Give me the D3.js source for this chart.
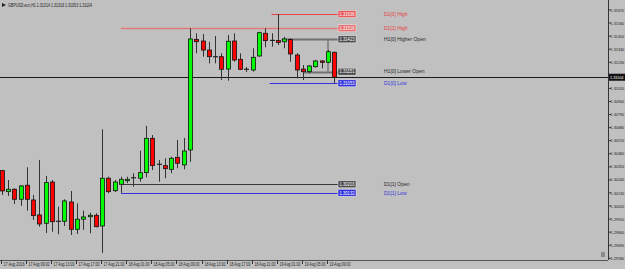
<!DOCTYPE html>
<html>
<head>
<meta charset="utf-8">
<script src="https://cdn.jsdelivr.net/npm/d3@7"></script>
<style>
  html, body { margin: 0; padding: 0; background: #c0c0c0; }
  svg { display: block; font-family: "Liberation Sans", "DejaVu Sans", sans-serif; }
</style>
</head>
<body>
<svg id="chart" width="625" height="269"></svg>
<script>
// GBPUSD H1, bars from 17 Aug 05:00 onward
const opens  = [1.30318,1.30141,1.30161,1.30077,1.30195,1.30071,1.29945,1.29875,1.30222,1.29894,
                1.29892,1.30054,1.29824,1.29909,1.29930,1.29942,1.29852,1.30254,1.30149,1.30203,
                1.30233,1.30260,1.30254,1.30301,1.30590,1.30374,1.30360,1.30329,1.30430,1.30366,
                1.30492,1.31423,1.31409,1.31333,1.31279,1.31277,1.31173,1.31409,1.31255,1.31173,
                1.31165,1.31283,1.31474,1.31416,1.31413,1.31403,1.31423,1.31291,1.31173,1.31151,
                1.31193,1.31241,1.31230,1.31314];
const highs  = [1.30323,1.30239,1.30169,1.30197,1.30346,1.30113,1.30408,1.30273,1.30239,1.30015,
                1.30077,1.30147,1.30043,1.29981,1.29964,1.29959,1.30666,1.30267,1.30239,1.30267,
                1.30267,1.30296,1.30486,1.30694,1.30618,1.30408,1.30422,1.30435,1.30576,1.30593,
                1.31516,1.31474,1.31468,1.31403,1.31451,1.31306,1.31460,1.31474,1.31306,1.31190,
                1.31348,1.31487,1.31516,1.31474,1.31636,1.31445,1.31432,1.31306,1.31207,1.31207,
                1.31249,1.31249,1.31333,1.31319];
const lows   = [1.30113,1.30105,1.30037,1.30021,1.29981,1.29903,1.29846,1.29793,1.29804,1.29782,
                1.29852,1.29776,1.29785,1.29819,1.29791,1.29841,1.29625,1.30127,1.30138,1.30132,
                1.30212,1.30183,1.30225,1.30262,1.30323,1.30225,1.30254,1.30296,1.30338,1.30329,
                1.30393,1.31306,1.31277,1.31221,1.31221,1.31081,1.31075,1.31235,1.31165,1.31148,
                1.31151,1.31277,1.31356,1.31361,1.31375,1.31348,1.31235,1.31095,1.31081,1.31137,
                1.31184,1.31179,1.31221,1.31053];
const closes = [1.30147,1.30161,1.30077,1.30189,1.30077,1.29939,1.29869,1.30217,1.29888,1.29889,
                1.30063,1.29824,1.29909,1.29928,1.29942,1.29846,1.30254,1.30141,1.30222,1.30245,
                1.30245,1.30256,1.30301,1.30590,1.30360,1.30369,1.30334,1.30422,1.30380,1.30483,
                1.31426,1.31403,1.31333,1.31277,1.31274,1.31171,1.31407,1.31249,1.31171,1.31169,
                1.31272,1.31479,1.31412,1.31412,1.31396,1.31426,1.31300,1.31165,1.31151,1.31199,
                1.31241,1.31230,1.31319,1.31104];

const timeLabels = ["17 Aug 2016","17 Aug 09:00","17 Aug 13:00","17 Aug 17:00","17 Aug 21:00",
                    "18 Aug 01:00","18 Aug 05:00","18 Aug 09:00","18 Aug 13:00","18 Aug 17:00",
                    "18 Aug 21:00","19 Aug 01:00","19 Aug 05:00","19 Aug 09:00"];
const priceTicks = [1.31670,1.31560,1.31450,1.31340,1.31230,1.31120,1.31010,1.30900,1.30790,1.30680,
                    1.30570,1.30460,1.30350,1.30240,1.30130,1.30020,1.29910,1.29800,1.29690,1.29580];

// day boundaries (bar index)
const day0Start = 43;   // 19 Aug 00:00
const day1Start = 19;   // 18 Aug 00:00
const higherOpenBar = 46, lowerOpenBar = 49;

const bgclr = "#c0c0c0";
const bullclr = "#00ff00";
const bearclr = "#ff0000";
const redlvl = "#e8413f";
const bluelvl = "#3333dd";
const greylvl = "#4c4c4c";

const svg = d3.select("#chart");
const W = 625, H = 269;
const plotR = 608, plotB = 260;

const x = d3.scaleLinear().domain([0, 53]).range([1.7, 334.3]);
const y = d3.scaleLinear().domain([1.29580, 1.31670]).range([258.3, 10]);
const fmt = d3.format(".5f");

svg.append("rect").attr("width", W).attr("height", H).attr("fill", bgclr);

const bars = d3.range(opens.length).map(i => ({i, o: opens[i], h: highs[i], l: lows[i], c: closes[i]}));
const last = bars[bars.length - 1];

// levels
const d0 = bars.slice(day0Start), d1 = bars.slice(day1Start, day0Start);
const levels = [
  {name: "D1[0] High", v: d3.max(d0, d => d.h), from: day0Start, line: redlvl, box: "#e85a5a", txt: redlvl, w: 1},
  {name: "D1[1] High", v: d3.max(d1, d => d.h), from: day1Start, line: "#e07a7a", box: "#e87070", txt: redlvl, w: 1.5},
  {name: "H1[0] Higher Open", v: opens[higherOpenBar], from: 44.6, line: "#707070", box: greylvl, txt: "#2a2a2a", w: 2},
  {name: "H1[0] Lower Open", v: opens[lowerOpenBar], from: 48, line: "#707070", box: greylvl, txt: "#2a2a2a", w: 2},
  {name: "D1[0] Low", v: d3.min(d0, d => d.l), from: day0Start - 0.3, line: bluelvl, box: bluelvl, txt: bluelvl, w: 1},
  {name: "D1[1] Open", v: d1[0].o, from: day1Start, line: "#3a3a3a", box: greylvl, txt: "#2a2a2a", w: 1},
  {name: "D1[1] Low", v: d3.min(d1, d => d.l), from: day1Start, line: bluelvl, box: bluelvl, txt: bluelvl, w: 1}
];

// connector between the two H1 open levels
svg.append("line")
  .attr("x1", x(52)).attr("x2", x(52))
  .attr("y1", y(opens[higherOpenBar])).attr("y2", y(opens[lowerOpenBar]))
  .attr("stroke", "#8a8a8a").attr("stroke-width", 2);

levels.forEach(lv => {
  svg.append("line")
    .attr("x1", x(lv.from)).attr("x2", 338)
    .attr("y1", Math.round(y(lv.v)) + 0.5).attr("y2", Math.round(y(lv.v)) + 0.5)
    .attr("stroke", lv.line).attr("stroke-width", lv.w);
});

// current price line
svg.append("line")
  .attr("x1", 0).attr("x2", plotR)
  .attr("y1", Math.round(y(last.c)) + 0.5).attr("y2", Math.round(y(last.c)) + 0.5)
  .attr("stroke", "#1a1a1a").attr("stroke-width", 1);

// candles
const g = svg.append("g");
bars.forEach(b => {
  const cx = Math.round(x(b.i)) + 0.5;
  g.append("line")
    .attr("x1", cx).attr("x2", cx)
    .attr("y1", y(b.h)).attr("y2", y(b.l))
    .attr("stroke", "#333").attr("stroke-width", 1);
  const top = y(Math.max(b.o, b.c)), bot = y(Math.min(b.o, b.c));
  if (bot - top < 1.2) {
    g.append("line")
      .attr("x1", cx - 2.5).attr("x2", cx + 2.5)
      .attr("y1", (top + bot) / 2).attr("y2", (top + bot) / 2)
      .attr("stroke", "#222").attr("stroke-width", 1.2);
  } else {
    g.append("rect")
      .attr("x", cx - 2).attr("y", top)
      .attr("width", 4).attr("height", bot - top)
      .attr("fill", b.c > b.o ? bullclr : bearclr)
      .attr("stroke", "#111").attr("stroke-width", 0.8);
  }
});

// level tags and texts
levels.forEach(lv => {
  const yy = y(lv.v);
  svg.append("rect")
    .attr("x", 338).attr("y", yy - 3.5).attr("width", 18).attr("height", 7)
    .attr("fill", lv.box).attr("stroke", "#eee").attr("stroke-width", 0.5);
  svg.append("text")
    .attr("x", 339.5).attr("y", yy + 1.8)
    .attr("font-size", 5).attr("fill", "#fff")
    .attr("textLength", 15).attr("lengthAdjust", "spacingAndGlyphs")
    .text(fmt(lv.v));
  svg.append("text")
    .attr("x", 384).attr("y", yy + 1.8)
    .attr("font-size", 5).attr("fill", lv.txt)
    .text(lv.name);
});

// axes frame
svg.append("line").attr("x1", plotR + 0.5).attr("x2", plotR + 0.5).attr("y1", 0).attr("y2", plotB)
  .attr("stroke", "#333");
svg.append("line").attr("x1", 0).attr("x2", plotR).attr("y1", plotB + 0.5).attr("y2", plotB + 0.5)
  .attr("stroke", "#555");
svg.append("rect").attr("x", 601).attr("y", 252).attr("width", 4).attr("height", 5)
  .attr("fill", "#8a8a8a");

// price axis
const cy = y(last.c);
priceTicks.forEach(p => {
  const yy = y(p);
  svg.append("line").attr("x1", plotR).attr("x2", plotR + 3).attr("y1", yy).attr("y2", yy).attr("stroke", "#333");
  if (Math.abs(yy - cy) < 7) return;
  svg.append("text").attr("x", 610.5).attr("y", yy + 1.6)
    .attr("font-size", 3.8).attr("fill", "#222")
    .text(fmt(p));
});
svg.append("rect").attr("x", plotR + 1).attr("y", cy - 3.5).attr("width", 16).attr("height", 7).attr("fill", "#111");
svg.append("text").attr("x", 610).attr("y", cy + 1.6).attr("font-size", 3.8).attr("fill", "#fff")
  .text(fmt(last.c));

// time axis
timeLabels.forEach((t, k) => {
  const tx = Math.round(x(k * 4)) - 0.5;
  svg.append("line").attr("x1", tx).attr("x2", tx).attr("y1", plotB).attr("y2", plotB + 4).attr("stroke", "#333");
  svg.append("text").attr("x", tx + 2).attr("y", 266).attr("font-size", 4.6).attr("fill", "#222")
    .attr("textLength", 21).attr("lengthAdjust", "spacingAndGlyphs")
    .text(t);
});

// title
svg.append("path").attr("d", "M2,3 L6,5 L2,7 Z").attr("fill", "#222");
svg.append("text").attr("x", 8).attr("y", 6.8).attr("font-size", 5).attr("fill", "#222")
  .attr("textLength", 84).attr("lengthAdjust", "spacingAndGlyphs")
  .text("GBPUSD.ecn,H1  " + [last.o, last.h, last.l, last.c].map(fmt).join(" "));
</script>
</body>
</html>
